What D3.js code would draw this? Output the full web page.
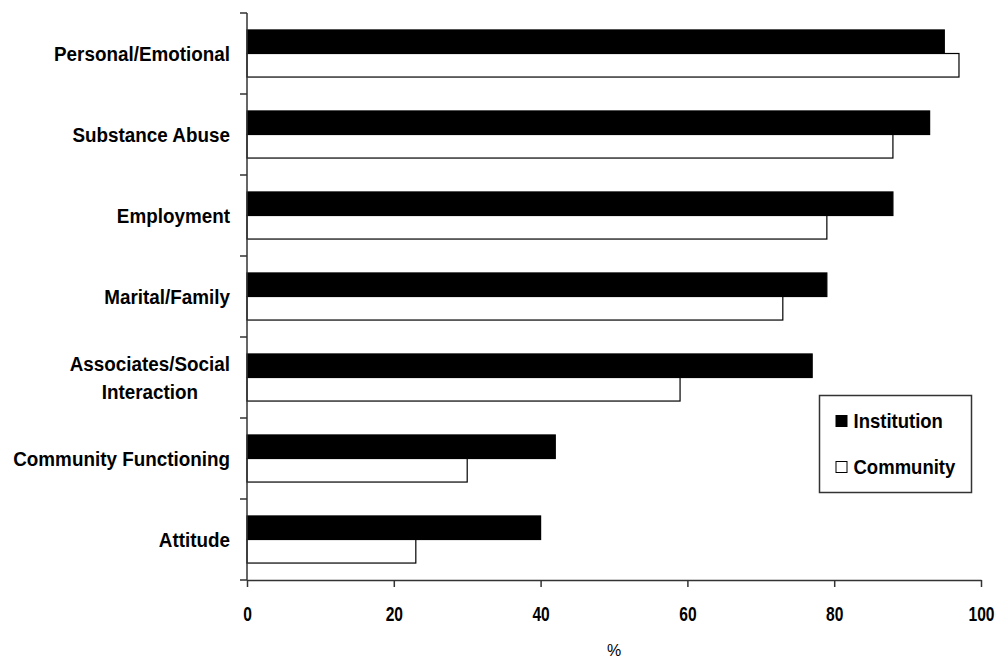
<!DOCTYPE html>
<html>
<head>
<meta charset="utf-8">
<script src="https://cdn.jsdelivr.net/npm/d3@7"></script>
<style>
  html, body { margin: 0; padding: 0; background: #fff; }
  svg { display: block; font-family: "Liberation Sans", Arial, sans-serif; }
</style>
</head>
<body>
<svg id="chart" width="1000" height="659"></svg>
<script>
// Need areas, top to bottom
const categories = [
  "Personal/Emotional",
  "Substance Abuse",
  "Employment",
  "Marital/Family",
  "Associates/Social\nInteraction",
  "Community Functioning",
  "Attitude"
];
const seriesNames = ["Institution", "Community"];
const institution = [95, 93, 88, 79, 77, 42, 40];
const community   = [97, 88, 79, 73, 59, 30, 23];
const xTicks = [0, 20, 40, 60, 80, 100];
const xTitle = "%";

const seriesValues = { Institution: institution, Community: community };
const seriesFill = { Institution: "#000", Community: "#fff" };

const svg = d3.select("#chart");
const axisColor = "#333";

const x = d3.scaleLinear().domain([0, 100]).range([247, 981]);
const y0 = d3.scaleBand().domain(categories).range([13, 580]).padding(0);
const y1 = d3.scaleBand().domain(seriesNames)
  .range([0, y0.bandwidth()]).paddingInner(0).paddingOuter(0.72);

// Bars
const groups = svg.append("g").selectAll("g")
  .data(categories)
  .join("g")
  .attr("transform", d => `translate(0,${y0(d)})`);

groups.selectAll("rect")
  .data((d, i) => seriesNames.map(s => ({ s, v: seriesValues[s][i] })))
  .join("rect")
  .attr("x", x(0))
  .attr("y", d => y1(d.s))
  .attr("width", d => x(d.v) - x(0))
  .attr("height", y1.bandwidth())
  .attr("fill", d => seriesFill[d.s])
  .attr("stroke", "#000")
  .attr("stroke-width", 1.2);

// X axis
const xAxis = svg.append("g")
  .attr("transform", "translate(0,580)")
  .call(d3.axisBottom(x).tickValues(xTicks).tickSize(7).tickSizeOuter(0).tickPadding(20));
xAxis.select(".domain").attr("stroke", axisColor).attr("stroke-width", 1.5);
xAxis.selectAll(".tick line").attr("stroke", axisColor).attr("stroke-width", 1.5);
xAxis.selectAll(".tick text")
  .attr("fill", "#000")
  .attr("font-size", 19.5)
  .attr("font-weight", "bold")
  .attr("font-family", "'Liberation Sans', Arial, sans-serif")
  .attr("transform", "scale(0.8,1)");

svg.append("text")
  .attr("x", (x(0) + x(100)) / 2)
  .attr("y", 656)
  .attr("text-anchor", "middle")
  .attr("font-size", 16)
  .text(xTitle);

// Y axis: spine plus ticks at category boundaries
const yAxis = svg.append("g");
yAxis.append("line")
  .attr("x1", x(0)).attr("x2", x(0))
  .attr("y1", y0.range()[0]).attr("y2", y0.range()[1])
  .attr("stroke", axisColor).attr("stroke-width", 1.5);
const boundaries = categories.map(c => y0(c)).concat([y0.range()[1]]);
yAxis.selectAll("line.tick")
  .data(boundaries)
  .join("line")
  .attr("class", "tick")
  .attr("x1", x(0) - 7).attr("x2", x(0))
  .attr("y1", d => d).attr("y2", d => d)
  .attr("stroke", axisColor).attr("stroke-width", 1.5);

// Category labels, right aligned; wrapped labels centred on their widest line
const labelRight = 230;
const lineGap = 28;
const labelScale = 0.92;
categories.forEach(c => {
  const lines = c.split("\n");
  const cy = y0(c) + y0.bandwidth() / 2;
  const g = svg.append("g")
    .attr("transform", `translate(${labelRight},${cy}) scale(${labelScale},1)`);
  const t = g.append("text")
    .attr("font-size", 20.5)
    .attr("font-weight", "bold")
    .attr("fill", "#000");
  if (lines.length === 1) {
    t.attr("x", 0).attr("y", 0).attr("dy", "0.35em")
      .attr("text-anchor", "end").text(c);
  } else {
    const spans = lines.map((ln, i) => t.append("tspan")
      .attr("y", (i - (lines.length - 1) / 2) * lineGap)
      .attr("dy", "0.35em")
      .text(ln));
    const widest = d3.max(spans, s => s.node().getComputedTextLength());
    t.attr("text-anchor", "middle");
    spans.forEach(s => s.attr("x", -widest / 2));
  }
});

// Legend
const legend = svg.append("g").attr("transform", "translate(819.5,395.5)");
legend.append("rect")
  .attr("width", 152).attr("height", 97)
  .attr("fill", "#fff").attr("stroke", axisColor).attr("stroke-width", 1.5);
seriesNames.forEach((s, i) => {
  const ry = 26 + i * 46;
  legend.append("rect")
    .attr("x", 16.5).attr("y", ry - 6)
    .attr("width", 11).attr("height", 11)
    .attr("fill", seriesFill[s]).attr("stroke", "#000").attr("stroke-width", 1);
  legend.append("text")
    .attr("transform", `translate(34,${ry}) scale(0.95,1)`)
    .attr("dy", "0.35em")
    .attr("font-size", 19.5).attr("font-weight", "bold")
    .text(s);
});
</script>
</body>
</html>
